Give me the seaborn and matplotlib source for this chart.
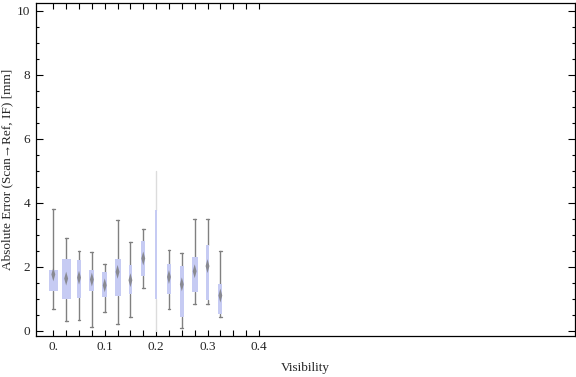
import numpy as np
import pandas as pd
import matplotlib
matplotlib.use("Agg")
import matplotlib.pyplot as plt
from matplotlib.path import Path
import seaborn as sns

# visibility bins and box-whisker stats (mm)
visibility = [0.0, 0.025, 0.05, 0.075, 0.1, 0.125, 0.15, 0.175, 0.2, 0.225, 0.25, 0.275, 0.3, 0.325]
whisker_low = [0.68, 0.31, 0.34, 0.12, 0.59, 0.22, 0.44, 1.33, 0.00, 0.68, 0.08, 0.82, 0.84, 0.44]
q1 = [1.24, 0.98, 1.02, 1.24, 1.05, 1.08, 1.15, 1.72, 1.00, 1.15, 0.42, 1.21, 0.96, 0.52]
median = [1.76, 1.63, 1.66, 1.60, 1.42, 1.84, 1.58, 2.26, np.nan, 1.68, 1.45, 1.86, 2.02, 1.10]
q3 = [1.89, 2.24, 2.21, 1.89, 1.83, 2.24, 2.05, 2.81, 3.79, 2.08, 2.02, 2.31, 2.68, 1.45]
whisker_high = [3.81, 2.89, 2.48, 2.45, 2.10, 3.46, 2.77, 3.18, 4.99, 2.52, 2.42, 3.49, 3.49, 2.48]
box_widths = [0.0167, 0.0173, 0.0096, 0.0096, 0.0096, 0.0115, 0.0051, 0.0071, 0.0038,
              0.0077, 0.0077, 0.0115, 0.0077, 0.0077]
faint = [False] * 8 + [True] + [False] * 5

sns.set_theme(style="ticks")
plt.rcParams['font.family'] = ['Liberation Serif', 'DejaVu Serif']
plt.rcParams['xtick.labelsize'] = 9.5
plt.rcParams['ytick.labelsize'] = 9.5
plt.rcParams['axes.labelsize'] = 9.5

fig = plt.figure(figsize=(5.76, 3.77), dpi=100)
ax = fig.add_axes([36 / 576, 1 - 335.5 / 377, 539 / 576, 332.2 / 377])

box_col = '#c6cbf3'
line_col = '#808080'

for is_faint in (False, True):
    idx = [i for i in range(len(visibility)) if faint[i] == is_faint]
    stats = [dict(whislo=whisker_low[i], q1=q1[i], med=median[i], q3=q3[i],
                  whishi=whisker_high[i], fliers=[]) for i in idx]
    wcol = '#dcdcdc' if is_faint else line_col
    ax.bxp(stats, positions=[visibility[i] for i in idx], widths=[box_widths[i] for i in idx],
           capwidths=[0 if is_faint else 0.0055 for i in idx],
           patch_artist=True, showfliers=False, manage_ticks=False,
           boxprops=dict(facecolor=box_col, edgecolor='none', linewidth=0, zorder=3),
           whiskerprops=dict(color=wcol, linewidth=1.0, zorder=2),
           capprops=dict(color=wcol, linewidth=1.0, zorder=2),
           medianprops=dict(linewidth=0, color='none'))

df = pd.DataFrame({'Visibility': visibility, 'median': median}).dropna()
diamond = Path([(0, 1), (0.28, 0), (0, -1), (-0.28, 0), (0, 1)],
               [Path.MOVETO, Path.LINETO, Path.LINETO, Path.LINETO, Path.CLOSEPOLY])
sns.scatterplot(data=df, x='Visibility', y='median', marker=diamond, s=100,
                color='#7a7a7a', edgecolor='none', alpha=0.8, zorder=4, ax=ax, legend=False)

ax.set_xlim(-0.0337, 1.015)
ax.set_ylim(-0.15, 10.24)
ax.set_xticks([0, 0.1, 0.2, 0.3, 0.4])
ax.set_xticklabels(['0.', '0.1', '0.2', '0.3', '0.4'])
ax.set_xticks(np.arange(0, 0.401, 0.025), minor=True)
ax.set_yticks(range(0, 11, 2))
ax.set_yticks(np.arange(0, 10.01, 0.5), minor=True)
ax.tick_params(which='both', direction='in', top=True, right=True, color='black', width=0.8, pad=4)
ax.tick_params(axis='x', which='both', length=4)
ax.tick_params(axis='y', which='major', length=5)
ax.tick_params(axis='y', which='minor', length=2.5)
for s in ax.spines.values():
    s.set_linewidth(0.9)
    s.set_color('black')

ax.set_xlabel('Visibility', va='center')
ax.xaxis.set_label_coords(0.499, -0.098)
ax.set_ylabel('Absolute Error (Scan\u2192Ref, IF) [mm]', va='center')
ax.yaxis.set_label_coords(-0.054, 0.5)

plt.savefig('out.png', dpi=100)
